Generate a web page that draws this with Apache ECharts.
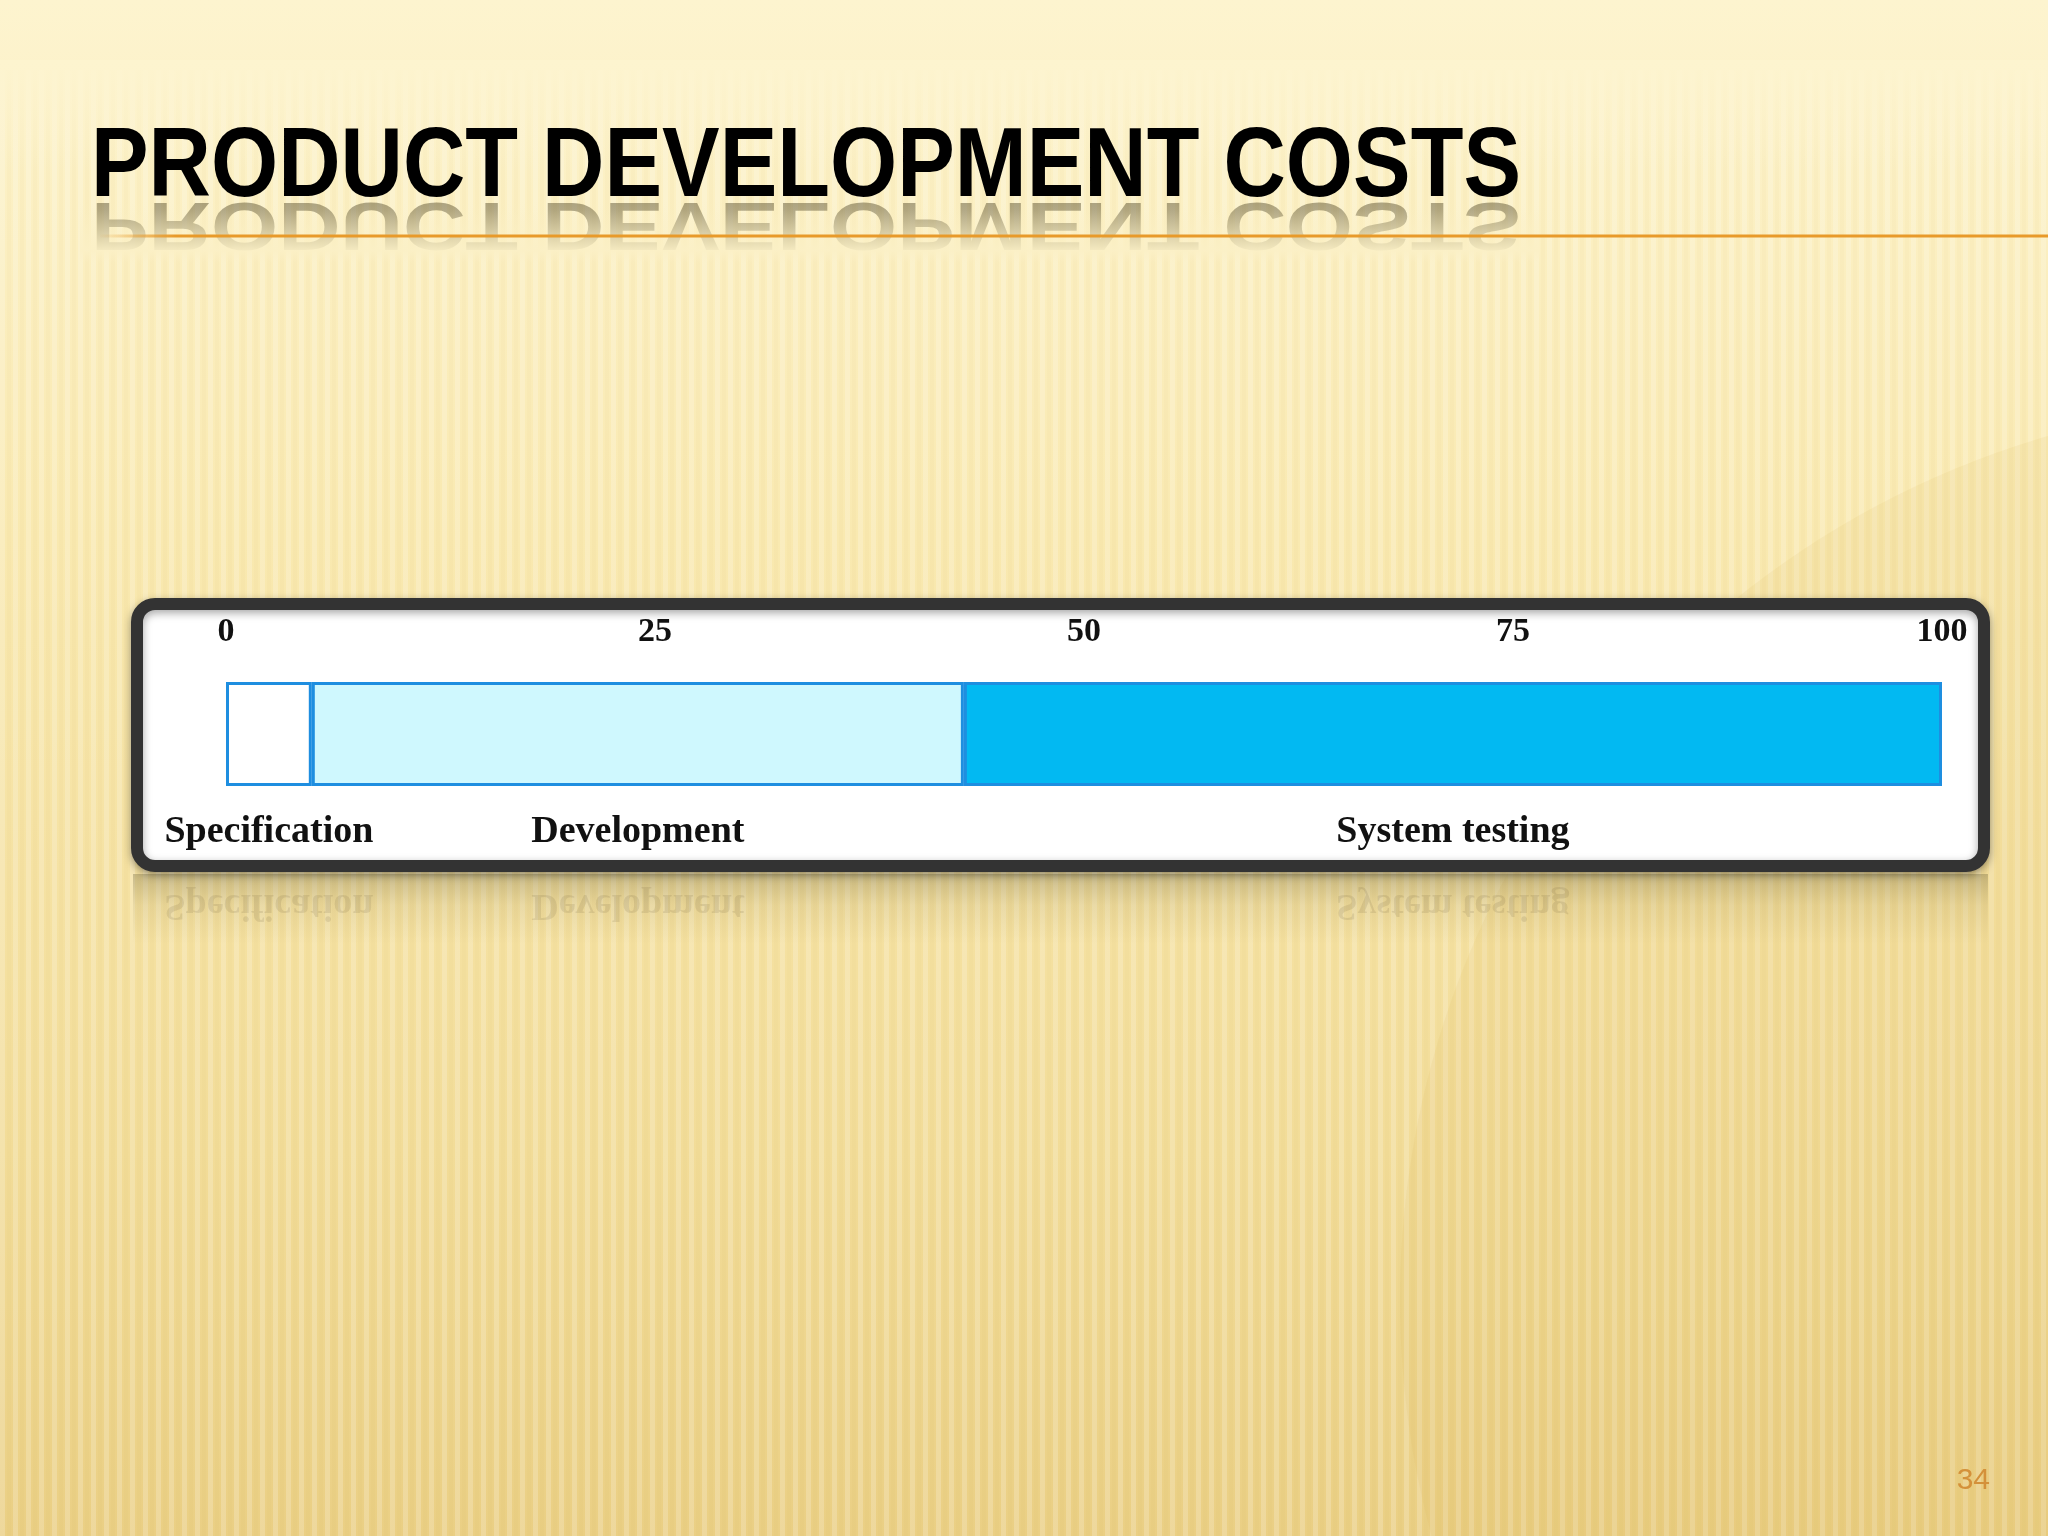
<!DOCTYPE html>
<html>
<head>
<meta charset="utf-8">
<style>
html,body{margin:0;padding:0;width:2048px;height:1536px;overflow:hidden;}
#main{width:2048px;height:1536px;}
</style>
<script src="https://cdn.jsdelivr.net/npm/echarts@6/dist/echarts.min.js"></script>
</head>
<body>
<div id="main"></div>
<script>
// ---- data ----
const titleText = 'PRODUCT DEVELOPMENT COSTS';
const pageNumber = '34';
const categories = ['Costs'];
const phaseNames = ['Specification', 'Development', 'System testing'];
const phaseValues = [5, 38, 57];
const tickMin = 0, tickMax = 100, tickStep = 25;

// ---- styling ----
const phaseColors = ['#FFFFFF', '#CFF8FE', '#02B9F2'];
const W = 2048, H = 1536;

// stripe pattern for background
const pat = document.createElement('canvas');
pat.width = 13; pat.height = 40;
(function(){
  const c = pat.getContext('2d');
  c.fillStyle = 'rgba(255,255,255,0.5)';
  c.fillRect(0, 0, 5, 40);
  c.fillStyle = 'rgba(200,160,60,0.08)';
  c.fillRect(7, 0, 4, 40);
})();

// measure title to fit its width
const mc = document.createElement('canvas').getContext('2d');
const titleFont = 'bold 98px "Liberation Sans Narrow", "Liberation Sans", sans-serif';
mc.font = titleFont;
const titleW = mc.measureText(titleText).width;
const titleScale = 1430 / titleW;

const chart = echarts.init(document.getElementById('main'), null, {renderer: 'canvas'});

const series = phaseNames.map((name, i) => ({
  name: name,
  type: 'bar',
  stack: 'total',
  barWidth: '100%',
  data: [phaseValues[i]],
  itemStyle: { color: phaseColors[i], borderColor: '#1E8EE0', borderWidth: 3 },
  label: {
    show: true,
    position: 'bottom',
    distance: 27,
    formatter: name,
    fontFamily: 'Liberation Serif',
    fontWeight: 'bold',
    fontSize: 38,
    color: '#111'
  },
  emphasis: { disabled: true },
  silent: true
}));

const bgFade = 'rgba(251,240,198,';
const reflLabels = phaseNames.map((name, i) => {
  const start = phaseValues.slice(0, i).reduce((a, b) => a + b, 0);
  return { name: name, mid: start + phaseValues[i] / 2 };
});

chart.setOption({
  animation: false,
  backgroundColor: {
    type: 'linear', x: 0, y: 0, x2: 0, y2: 1,
    colorStops: [
      {offset: 0, color: '#FDF4CF'},
      {offset: 0.35, color: '#F9E9B0'},
      {offset: 0.75, color: '#F2DC98'},
      {offset: 1, color: '#EACF84'}
    ]
  },
  graphic: [
    // stripes
    { type: 'rect', z: -10, shape: {x: 0, y: 70, width: W, height: H - 70},
      style: { fill: {image: pat, repeat: 'repeat'}, opacity: 0.4 }, silent: true },
    // top fade over stripes
    { type: 'rect', z: -9, shape: {x: 0, y: 60, width: W, height: 110},
      style: { fill: {type: 'linear', x: 0, y: 0, x2: 0, y2: 1,
        colorStops: [{offset: 0, color: 'rgba(253,244,207,1)'}, {offset: 1, color: 'rgba(253,244,207,0)'}]} }, silent: true },
    // soft large circle on right
    { type: 'circle', z: -8, shape: {cx: 2300, cy: 1300, r: 900},
      style: { fill: 'rgba(215,175,80,0.10)' }, silent: true },
    // title
    { type: 'text', z: 5, x: 91, y: 169, scaleX: titleScale, scaleY: 1,
      style: { text: titleText, font: titleFont, fill: '#000', verticalAlign: 'middle', align: 'left' } },
    // title reflection
    { type: 'text', z: 4, x: 91, y: 222, scaleX: titleScale, scaleY: -0.7,
      style: { text: titleText, font: titleFont, fill: 'rgba(60,50,20,0.42)', verticalAlign: 'middle', align: 'left' } },
    // fade for reflection
    { type: 'rect', z: 4.5, shape: {x: 80, y: 201, width: 1460, height: 62},
      style: { fill: {type: 'linear', x: 0, y: 0, x2: 0, y2: 1,
        colorStops: [{offset: 0, color: bgFade + '0)'}, {offset: 0.15, color: bgFade + '0.1)'}, {offset: 0.8, color: bgFade + '0.92)'}, {offset: 1, color: bgFade + '0)'}]} }, silent: true },
    // orange rule
    { type: 'line', z: 6, shape: {x1: 100, y1: 236, x2: W, y2: 236},
      style: { lineWidth: 3,
        stroke: {type: 'linear', x: 0, y: 0, x2: 1, y2: 0, global: false,
          colorStops: [{offset: 0, color: 'rgba(232,154,42,0)'}, {offset: 0.04, color: 'rgba(232,154,42,1)'}, {offset: 1, color: 'rgba(232,154,42,1)'}]} } },
    // frame reflection
    { type: 'rect', z: -5, shape: {x: 133, y: 874, width: 1855, height: 70},
      style: { fill: {type: 'linear', x: 0, y: 0, x2: 0, y2: 1,
        colorStops: [{offset: 0, color: 'rgba(110,100,60,0.35)'}, {offset: 0.45, color: 'rgba(140,125,70,0.12)'}, {offset: 1, color: 'rgba(140,125,70,0)'}]} }, silent: true },
    // chart frame
    { type: 'rect', z: -1, shape: {x: 137, y: 604, width: 1847, height: 262, r: 18},
      style: { fill: '#FFFFFF', stroke: '#333333', lineWidth: 12,
        shadowBlur: 8, shadowColor: 'rgba(0,0,0,0.35)', shadowOffsetY: 3 }, silent: true },
    // page number
    { type: 'text', z: 5, x: 1990, y: 1481,
      style: { text: pageNumber, fontFamily: 'Liberation Sans', fontSize: 30, fill: '#D4913A', align: 'right', verticalAlign: 'middle' } }
  ].concat(reflLabels.map(r => ({
    type: 'text', z: -4, x: 226 + (1942 - 226) * r.mid / 100, y: 905, scaleY: -1,
    style: { text: r.name, fontFamily: 'Liberation Serif', fontWeight: 'bold', fontSize: 38,
      fill: 'rgba(90,80,50,0.13)', align: 'center', verticalAlign: 'middle' }, silent: true
  }))),
  grid: { left: 226, right: W - 1942, top: 682, bottom: H - 786, containLabel: false },
  xAxis: {
    type: 'value', position: 'top', min: tickMin, max: tickMax, interval: tickStep,
    axisLine: {show: false}, axisTick: {show: false}, splitLine: {show: false},
    axisLabel: { margin: 33, fontFamily: 'Liberation Serif', fontWeight: 'bold', fontSize: 34, color: '#111' }
  },
  yAxis: {
    type: 'category', data: categories,
    axisLine: {show: false}, axisTick: {show: false}, axisLabel: {show: false}, splitLine: {show: false}
  },
  series: series
});
</script>
</body>
</html>
